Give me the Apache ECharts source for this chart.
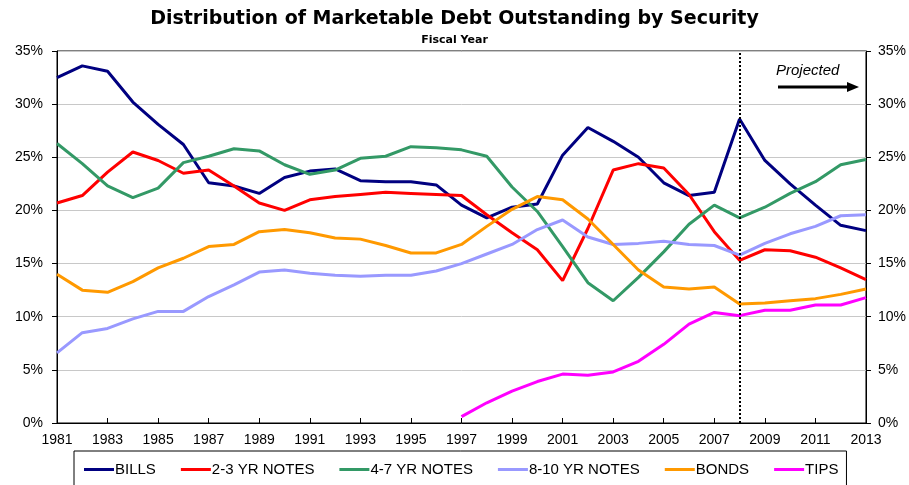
<!DOCTYPE html>
<html>
<head>
<meta charset="utf-8">
<script src="https://cdn.jsdelivr.net/npm/echarts@6/dist/echarts.min.js"></script>
<style>
  html, body { margin: 0; padding: 0; background: #fff; }
  #chart { width: 909px; height: 485px; }
</style>
</head>
<body>
<div id="chart"></div>
<script>
const years = ['1981', '1982', '1983', '1984', '1985', '1986', '1987', '1988', '1989', '1990',
  '1991', '1992', '1993', '1994', '1995', '1996', '1997', '1998', '1999', '2000',
  '2001', '2002', '2003', '2004', '2005', '2006', '2007', '2008', '2009', '2010',
  '2011', '2012', '2013']

// percent of marketable debt
const bills = [32.5, 33.6, 33.1, 30.2, 28.1, 26.2, 22.6, 22.3, 21.6, 23.1,
  23.7, 23.9, 22.8, 22.7, 22.7, 22.4, 20.5, 19.3, 20.3, 20.6,
  25.2, 27.8, 26.5, 25.0, 22.6, 21.4, 21.7, 28.6, 24.7, 22.5,
  20.5, 18.6, 18.1]
const notes23 = [20.7, 21.4, 23.6, 25.5, 24.7, 23.5, 23.8, 22.3, 20.7, 20.0,
  21.0, 21.3, 21.5, 21.7, 21.6, 21.5, 21.4, 19.6, 17.9, 16.3,
  13.4, 18.3, 23.8, 24.4, 24.0, 21.5, 18.0, 15.3, 16.3, 16.2,
  15.6, 14.6, 13.5]
const notes47 = [26.3, 24.4, 22.3, 21.2, 22.1, 24.5, 25.1, 25.8, 25.6, 24.3,
  23.4, 23.8, 24.9, 25.1, 26.0, 25.9, 25.7, 25.1, 22.2, 19.9,
  16.6, 13.2, 11.5, 13.7, 16.1, 18.7, 20.5, 19.3, 20.3, 21.6,
  22.7, 24.3, 24.8]
const notes810 = [6.6, 8.5, 8.9, 9.8, 10.5, 10.5, 11.9, 13.0, 14.2, 14.4,
  14.1, 13.9, 13.8, 13.9, 13.9, 14.3, 15.0, 15.9, 16.8, 18.2,
  19.1, 17.5, 16.8, 16.9, 17.1, 16.8, 16.7, 15.8, 16.9, 17.8,
  18.5, 19.5, 19.6]
const bonds = [14.0, 12.5, 12.3, 13.3, 14.6, 15.5, 16.6, 16.8, 18.0, 18.2,
  17.9, 17.4, 17.3, 16.7, 16.0, 16.0, 16.8, 18.5, 20.1, 21.3,
  21.0, 19.2, 16.8, 14.4, 12.8, 12.6, 12.8, 11.2, 11.3, 11.5,
  11.7, 12.1, 12.6]
const tips = [null, null, null, null, null, null, null, null, null, null,
  null, null, null, null, null, null, 0.6, 1.9, 3.0, 3.9,
  4.6, 4.5, 4.8, 5.8, 7.4, 9.3, 10.4, 10.1, 10.6, 10.6,
  11.1, 11.1, 11.8]

const projectedFrom = '2008'
const yTicks = [0, 5, 10, 15, 20, 25, 30, 35]

const font = 'Liberation Sans, Arial, sans-serif'
const wideFont = 'DejaVu Sans, Verdana, sans-serif'

function makeSeries(name, data, color) {
  return {
    name: name,
    type: 'line',
    data: data,
    symbol: 'none',
    lineStyle: { width: 3, color: color },
    itemStyle: { color: color },
    connectNulls: false
  }
}

const series = [
  makeSeries('BILLS', bills, '#000080'),
  makeSeries('2-3 YR NOTES', notes23, '#FF0000'),
  makeSeries('4-7 YR NOTES', notes47, '#339966'),
  makeSeries('8-10 YR NOTES', notes810, '#9999FF'),
  makeSeries('BONDS', bonds, '#FF9900'),
  makeSeries('TIPS', tips, '#FF00FF')
]

// projection starts here
series[0].markLine = {
  silent: true,
  symbol: 'none',
  label: { show: false },
  lineStyle: { color: '#000', type: 'dotted', width: 2 },
  data: [{ xAxis: projectedFrom }]
}

const yAxisBase = {
  type: 'value',
  min: yTicks[0],
  max: yTicks[yTicks.length - 1],
  interval: 5,
  axisLine: { show: true, lineStyle: { color: '#000', width: 1 } },
  axisTick: { show: true, length: 5, lineStyle: { color: '#000' } }
}

const chart = echarts.init(document.getElementById('chart'))
chart.setOption({
  animation: false,
  title: [{
    text: 'Distribution of Marketable Debt Outstanding by Security',
    left: 'center',
    top: 5,
    textStyle: { fontFamily: wideFont, fontWeight: 'bold', fontSize: 19, color: '#000' }
  }, {
    text: 'Fiscal Year',
    left: 'center',
    top: 30,
    textStyle: { fontFamily: wideFont, fontWeight: 'bold', fontSize: 11, color: '#000' }
  }],
  grid: {
    left: 57,
    right: 42,
    top: 51,
    bottom: 62,
    show: true,
    borderColor: '#000',
    borderWidth: 1
  },
  legend: {
    bottom: -8,
    left: 74,
    itemWidth: 30,
    itemHeight: 3,
    itemGap: 25,
    padding: [11, 8, 16, 10],
    borderColor: '#000',
    borderWidth: 1,
    icon: 'rect',
    textStyle: { fontFamily: font, fontSize: 15, color: '#000', padding: [0, 0, 0, -4] },
    data: series.map(s => s.name)
  },
  xAxis: {
    type: 'category',
    data: years,
    boundaryGap: false,
    axisLine: { lineStyle: { color: '#000', width: 1 } },
    axisTick: { inside: true, length: 5, interval: 1, lineStyle: { color: '#000' } },
    axisLabel: { interval: 1, color: '#000', fontFamily: font, fontSize: 14, margin: 10 },
    splitLine: { show: false }
  },
  yAxis: [
    Object.assign({}, yAxisBase, {
      position: 'left',
      axisLabel: { formatter: '{value}%', color: '#000', fontFamily: font, fontSize: 14, margin: 14 },
      splitLine: { show: true, lineStyle: { color: '#c8c8c8', width: 1 } }
    }),
    Object.assign({}, yAxisBase, {
      position: 'right',
      axisLabel: { formatter: '{value}%', color: '#000', fontFamily: font, fontSize: 14, margin: 12 },
      splitLine: { show: false }
    })
  ],
  graphic: [{
    type: 'text',
    left: 776,
    top: 63,
    style: { text: 'Projected', font: 'italic 15px ' + font, fill: '#000' }
  }, {
    type: 'line',
    shape: { x1: 778, y1: 87, x2: 850, y2: 87 },
    style: { stroke: '#000', lineWidth: 3 }
  }, {
    type: 'polygon',
    shape: { points: [[847, 82], [859, 87], [847, 92]] },
    style: { fill: '#000' }
  }],
  series: series
})
</script>
</body>
</html>
